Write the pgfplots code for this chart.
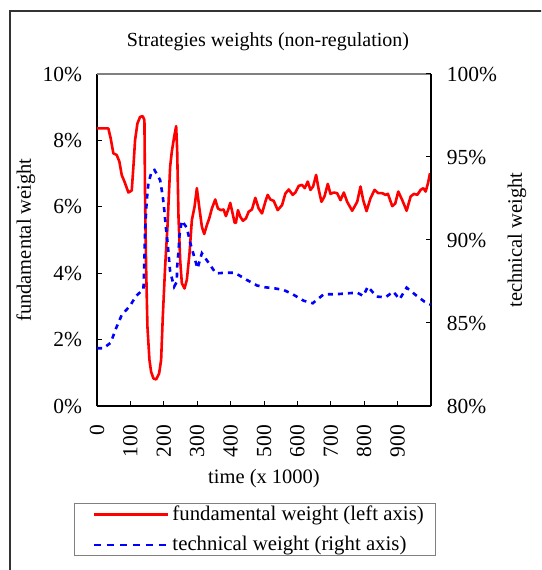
\documentclass[border=0pt]{standalone}
\usepackage{fontspec}
\setmainfont{Liberation Serif}
\usepackage{pgfplots}
\pgfplotsset{compat=1.18}
\pgfplotstableread{
t v
0 8.36
34 8.36
41 8.06
49 7.61
59 7.56
67 7.36
74 6.96
84 6.71
94 6.43
104 6.49
109 7.21
114 8.01
121 8.51
129 8.71
137 8.73
142 8.61
144 6.2
147 4.2
151 2.39
157 1.39
162 1.03
169 0.83
177 0.80
186 0.98
192 1.39
197 2.69
204 4.2
211 5.4
219 7.21
224 7.66
231 8.11
237 8.43
240 7.71
244 5.7
249 4.4
254 3.7
262 3.54
269 3.8
277 4.6
284 5.6
292 6.0
299 6.56
306 6.0
314 5.4
321 5.18
329 5.45
336 5.65
344 5.95
354 6.22
362 5.95
371 5.9
379 5.92
386 5.72
394 5.95
399 6.12
406 5.8
412 5.52
416 5.52
422 5.9
429 5.7
437 5.58
446 5.65
454 5.85
464 5.92
474 6.27
484 5.95
494 5.8
504 6.15
511 6.36
519 6.22
529 6.18
541 5.9
554 6.05
564 6.4
574 6.52
586 6.36
594 6.43
604 6.63
614 6.66
622 6.56
631 6.76
639 6.51
647 6.61
656 6.96
664 6.51
672 6.15
681 6.31
691 6.69
699 6.39
709 6.43
719 6.41
729 6.2
739 6.43
749 6.15
764 5.88
779 6.15
789 6.61
797 6.2
807 5.87
819 6.26
831 6.51
842 6.41
854 6.41
864 6.36
871 6.39
884 6.02
893 6.1
902 6.46
914 6.2
927 5.88
939 6.31
949 6.39
959 6.36
969 6.51
977 6.56
984 6.46
991 6.71
997 7.01
}\fundtable
\pgfplotstableread{
t v
0 83.48
19 83.48
41 83.81
57 84.68
74 85.48
99 86.04
117 86.63
139 87.03
142 88.8
144 90.6
149 92.4
154 93.42
164 94.16
172 94.22
189 93.61
197 92.61
202 91.7
206 90.8
211 89.9
215 88.99
219 88.09
231 87.19
239 87.49
240 88.39
244 89.3
247 90.3
254 91.16
269 90.74
279 89.84
291 88.99
301 88.29
314 89.2
334 88.63
356 87.99
387 88.03
407 88.03
424 87.89
449 87.59
479 87.26
504 87.15
531 87.09
559 86.99
586 86.73
619 86.34
646 86.19
664 86.49
679 86.73
704 86.73
727 86.75
752 86.79
779 86.83
797 86.63
811 87.19
837 86.59
864 86.55
887 86.89
906 86.43
927 87.13
957 86.64
981 86.28
999 86.1
}\techtable
\begin{document}
\fontsize{20}{24}\selectfont
\begin{tikzpicture}[font=\fontsize{20.5}{24}\selectfont]
\clip (-97pt,-164pt) rectangle (444pt,406pt);
\fill[white] (-97pt,-164pt) rectangle (444pt,406pt);
\draw[line width=1.2pt, black!80] (-87pt,-250pt) rectangle (500pt,395pt);
\pgfplotsset{
  myaxis/.style={
    at={(0pt,0pt)}, anchor=south west,
    scale only axis, width=334pt, height=332pt,
    xmin=0, xmax=1000,
    axis line style={-, line width=1.2pt, black},
    tick style={black, line width=1pt},
    major tick length=5pt,
    tick align=inside,
    tick label style={font=\fontsize{21.5}{25}\selectfont},
    /pgf/number format/assume math mode=true,
    clip=false,
  }
}
\begin{axis}[myaxis,
  ymin=0, ymax=10,
  axis x line*=bottom, axis y line*=left,
  xtick={0,100,200,300,400,500,600,700,800,900,1000},
  xticklabels={0,100,200,300,400,500,600,700,800,900,{}},
  x tick label style={rotate=90, anchor=east, xshift=-12pt},
  ytick={0,2,4,6,8,10},
  yticklabels={0\%,2\%,4\%,6\%,8\%,10\%},
  y tick label style={anchor=east, xshift=-8pt},
  title={Strategies weights (non-regulation)},
  title style={at={(0.5,1)}, anchor=center, yshift=26pt, xshift=4pt, font=\fontsize{20}{24}\selectfont},
  xlabel={time (x 1000)},
  xlabel style={at={(0.5,0)}, anchor=center, yshift=-73pt},
  ylabel={fundamental weight},
  ylabel style={at={(axis description cs:-0.2126,0.5)}, anchor=center},
  legend style={at={(-0.0689,-0.292)}, anchor=north west, draw=gray, line width=1pt,
    font=\fontsize{20.8}{24}\selectfont, cells={anchor=west}, inner xsep=10pt, inner ysep=0pt, row sep=9pt},
  legend image code/.code={\draw[#1] (10pt,0pt) -- (84pt,0pt); \draw[draw=none] (0pt,0pt) -- (86pt,0pt);},
]
\draw[gray, line width=1.2pt] (rel axis cs:0,1) -- (rel axis cs:1,1);
\addplot[red, line width=2.6pt, line join=round] table[x=t, y=v] {\fundtable};
\addlegendentry{fundamental weight (left axis)}
\addlegendimage{blue, line width=2.6pt, dash pattern=on 7pt off 6pt}
\addlegendentry{technical weight (right axis)}
\end{axis}
\begin{axis}[myaxis,
  ymin=80, ymax=100,
  axis x line=none, axis y line*=right,
  ytick={80,85,90,95,100},
  yticklabels={80\%,85\%,90\%,95\%,100\%},
  y tick label style={anchor=west, xshift=9pt},
  ylabel={technical weight},
  ylabel style={at={(axis description cs:1.2575,0.5)}, anchor=center},
]
\addplot[blue, line width=2.6pt, dash pattern=on 5pt off 5pt] table[x=t, y=v] {\techtable};
\end{axis}
\end{tikzpicture}
\end{document}
